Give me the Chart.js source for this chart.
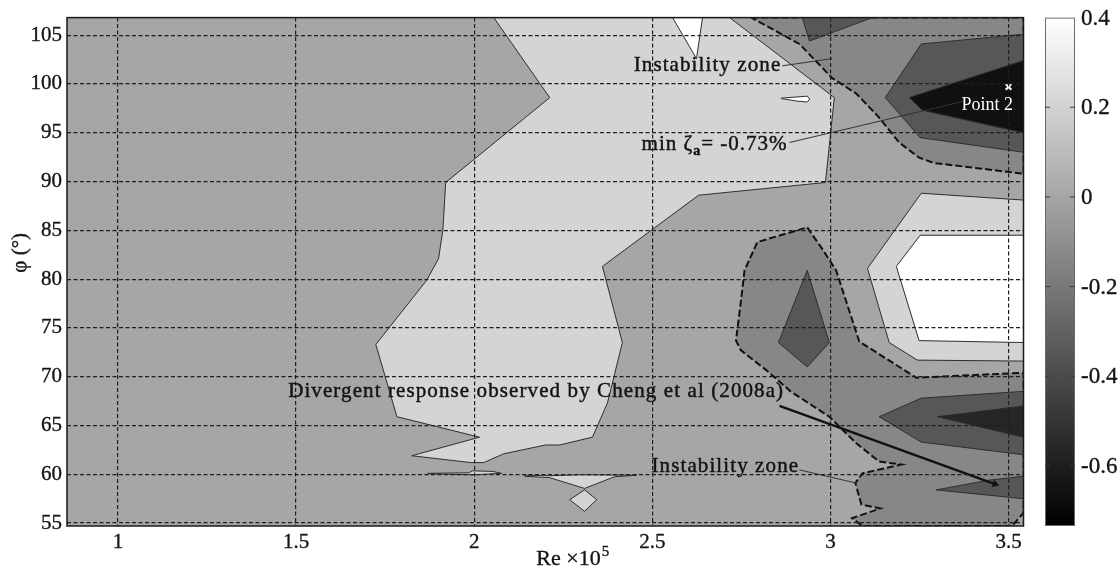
<!DOCTYPE html>
<html>
<head>
<meta charset="utf-8">
<script src="https://cdn.jsdelivr.net/npm/chart.js@4.4.1/dist/chart.umd.min.js"></script>
<style>
  html, body { margin: 0; padding: 0; background: #ffffff; }
  canvas { display: block; }
</style>
</head>
<body>
<canvas id="chart" width="1120" height="571"></canvas>
<script>
// ---- axes -------------------------------------------------------------
const reRange   = [0.857, 3.542];          // Re x 10^5
const phiRange  = [54.7, 106.8];           // phi in degrees
const reTicks   = [1, 1.5, 2, 2.5, 3, 3.5];
const phiTicks  = [55, 60, 65, 70, 75, 80, 85, 90, 95, 100, 105];
const zetaRange = [-0.734, 0.4];           // colour scale of zeta_a (%)
const zetaTicks = [0.4, 0.2, 0, -0.2, -0.4, -0.6];

// ---- filled contour regions, vertices as [Re, phi] ----------------------
// 0.2 <= zeta < 0.4
const bandHighMain = [[2.055,106.8],[2.717,106.8],[3.011,98.6],[2.986,89.9],[2.630,88.6],
  [2.360,81.3],[2.416,73.5],[2.374,67.3],[2.332,63.8],[2.240,63.0],[2.200,63.0],[2.083,62.1],
  [2.027,61.2],[1.990,61.2],[1.825,61.9],[2.015,63.8],[1.783,65.9],[1.724,73.3],[1.867,79.9],
  [1.900,82.1],[1.912,85.0],[1.920,89.9],[2.212,98.6]];
const bandHighEast = [[3.255,88.8],[3.542,88.1],[3.542,71.6],[3.244,71.7],[3.165,73.5],[3.104,81.1]];
const isleLowA = [[1.870,60.1],[1.985,60.15],[1.995,60.35],[2.050,60.3],[2.077,60.1],[2.000,59.95],[1.870,60.05]];
const isleLowB = [[2.142,59.9],[2.212,59.85],[2.300,59.95],[2.456,59.9],[2.394,59.75],[2.310,58.55],[2.212,59.65],[2.142,59.8]];
const isleLowC = [[2.268,57.4],[2.310,58.4],[2.344,57.4],[2.310,56.2]];
// zeta >= 0.4
const peakNorth = [[2.557,106.8],[2.641,106.8],[2.624,102.6]];
const peakEast  = [[3.252,84.5],[3.542,84.5],[3.542,73.5],[3.249,73.7],[3.185,81.3]];
const peakIsle  = [[2.862,98.55],[2.900,98.65],[2.935,98.75],[2.942,98.45],[2.935,98.15],[2.905,98.25],[2.862,98.5]];
// -0.2 <= zeta < 0 (instability zones, bounded by the zeta = 0 contour)
const unstableNorth = [[2.778,106.8],[3.542,106.8],[3.542,90.8],[3.291,91.9],[3.249,92.45],
  [3.193,94.0],[3.132,96.75],[3.073,99.0],[3.005,100.6],[2.913,104.1]];
const unstableSouth = [[2.935,85.3],[2.976,83.15],[3.016,80.9],[3.081,73.6],[3.241,69.9],[3.542,70.4],
  [3.542,56.05],[3.510,54.7],[3.090,54.7],[3.061,55.5],[3.140,56.5],[3.087,56.9],[3.070,59.1],
  [3.090,60.1],[3.199,61.0],[3.137,61.3],[3.072,63.2],[2.997,65.9],[2.888,68.5],[2.819,70.7],
  [2.749,72.7],[2.735,73.7],[2.749,77.8],[2.759,80.9],[2.795,83.8]];
// -0.4 <= zeta < -0.2
const dipNorthCap = [[2.921,106.8],[2.941,104.4],[3.118,106.8]];
const dipNorth    = [[3.154,98.6],[3.255,104.1],[3.542,105.1],[3.542,93.0],[3.252,94.5]];
const dipKite     = [[2.935,80.9],[2.997,73.5],[2.935,71.0],[2.854,73.5]];
const dipMid      = [[3.137,65.9],[3.255,67.8],[3.542,68.5],[3.542,62.0],[3.255,63.3]];
const dipLow      = [[3.297,58.4],[3.446,59.4],[3.542,59.8],[3.542,57.5]];
// -0.6 <= zeta < -0.4
const troughMid   = [[3.300,65.9],[3.542,67.0],[3.542,63.8]];
// zeta < -0.6
const troughNorth = [[3.221,98.6],[3.542,102.4],[3.542,95.0],[3.258,97.3]];

// ---- marked point and callouts ----------------------------------------
const point2 = [3.5, 99.7];
const leaderUpper = [[2.865,101.86],[3.005,102.6]];
const leaderMin   = [[2.885,94.0],[3.371,98.2]];
const leaderLower = [[2.913,60.45],[3.072,59.1]];
const arrowCheng  = [[2.857,67.0],[3.462,59.0]];
const noteUpper   = { text: 'Instability zone', at: [2.655, 101.9] };
const noteLower   = { text: 'Instability zone', at: [2.705, 60.8] };
const noteCheng   = { text: 'Divergent response observed by Cheng et al (2008a)', at: [2.174, 68.5] };
const noteMin     = { parts: ['min \u03b6', 'a', '= -0.73%'], at: [2.470, 93.2] };
const notePoint   = { text: 'Point 2', at: [3.440, 97.8] };

// ---- styles ------------------------------------------------------------
const tone = { p0: '#a6a6a6', p1: '#d4d4d4', p2: '#ffffff', n1: '#878787', n2: '#575757', n3: '#262626', n4: '#101010' };
const edge = {
  none:    { color: 'rgba(0,0,0,0)', width: 1, dash: [] },
  contour: { color: '#2e2e2e', width: 1, dash: [] },
  zero:    { color: '#111111', width: 2, dash: [7, 3] }
};
const serif = '"Liberation Serif", "Times New Roman", serif';
const ink = '#141414';
Chart.defaults.font.family = serif;
Chart.defaults.color = ink;

const fullField = [[reRange[0], phiRange[0]], [reRange[1], phiRange[0]], [reRange[1], phiRange[1]], [reRange[0], phiRange[1]]];

// bottom to top
const layers = [
  [fullField, tone.p0, 'none'],
  [bandHighMain, tone.p1, 'contour'],
  [bandHighEast, tone.p1, 'contour'],
  [isleLowA, tone.p1, 'contour'],
  [isleLowB, tone.p1, 'contour'],
  [isleLowC, tone.p1, 'contour'],
  [peakNorth, tone.p2, 'contour'],
  [peakEast, tone.p2, 'contour'],
  [peakIsle, tone.p2, 'contour'],
  [unstableNorth, tone.n1, 'zero'],
  [unstableSouth, tone.n1, 'zero'],
  [dipNorthCap, tone.n2, 'contour'],
  [dipNorth, tone.n2, 'contour'],
  [dipKite, tone.n2, 'contour'],
  [dipMid, tone.n2, 'contour'],
  [dipLow, tone.n2, 'contour'],
  [troughMid, tone.n3, 'contour'],
  [troughNorth, tone.n4, 'contour']
];

const toXY = pts => pts.map(([x, y]) => ({ x, y }));

const datasets = layers.map(([pts, color, kind]) => ({
  data: toXY(pts.concat([pts[0]])),
  fill: 'shape',
  backgroundColor: color,
  borderColor: edge[kind].color,
  borderWidth: edge[kind].width,
  borderDash: edge[kind].dash,
  pointRadius: 0,
  pointHoverRadius: 0,
  tension: 0
}));

[leaderUpper, leaderMin, leaderLower].forEach(seg => datasets.push({
  data: toXY(seg), fill: false, borderColor: '#333333', borderWidth: 1,
  pointRadius: 0, pointHoverRadius: 0, tension: 0
}));
datasets.push({
  data: toXY(arrowCheng), fill: false, borderColor: '#111111', borderWidth: 2.4,
  pointRadius: [0, 4.5], pointStyle: 'triangle', pointRotation: [0, 110],
  pointBackgroundColor: '#111111', pointBorderColor: '#111111', pointBorderWidth: 0,
  pointHoverRadius: 0, tension: 0
});
datasets.push({
  data: toXY([point2]), showLine: false, fill: false,
  pointStyle: 'crossRot', pointRadius: 4, pointBorderColor: '#ffffff', pointBorderWidth: 2,
  pointHoverRadius: 0
});
datasets.forEach((d, i) => { d.order = datasets.length - i; });

// ---- text, colour bar and frame ----------------------------------------
// text with a hairline outline so it reads as heavy as printed Times
function inkText(ctx, text, x, y, spacing) {
  ctx.letterSpacing = (spacing || 0) + 'px';
  ctx.fillText(text, x, y);
  ctx.strokeText(text, x, y);
  ctx.letterSpacing = '0px';
}

const decorations = {
  id: 'decorations',
  afterDraw(chart) {
    const { ctx, chartArea: a, scales } = chart;
    const sx = scales.x, sy = scales.y, cb = scales.cb;
    ctx.save();

    // plot frame
    ctx.strokeStyle = '#1a1a1a';
    ctx.lineWidth = 1.5;
    ctx.strokeRect(a.left, a.top, a.right - a.left, a.bottom - a.top);

    // callout texts
    ctx.fillStyle = ink;
    ctx.strokeStyle = ink;
    ctx.lineWidth = 0.45;
    ctx.textBaseline = 'middle';
    ctx.textAlign = 'center';
    ctx.font = '21px ' + serif;
    [noteUpper, noteLower, noteCheng].forEach(n => {
      inkText(ctx, n.text, sx.getPixelForValue(n.at[0]), sy.getPixelForValue(n.at[1]), 1.1);
    });

    // min zeta_a label with subscript
    ctx.textAlign = 'left';
    ctx.textBaseline = 'alphabetic';
    let mx = sx.getPixelForValue(noteMin.at[0]);
    const my = sy.getPixelForValue(noteMin.at[1]);
    ctx.font = '21px ' + serif;
    inkText(ctx, noteMin.parts[0], mx, my, 1);
    ctx.letterSpacing = '1px';
    mx += ctx.measureText(noteMin.parts[0]).width;
    ctx.font = 'bold 14px ' + serif;
    inkText(ctx, noteMin.parts[1], mx, my + 5, 1);
    ctx.letterSpacing = '1px';
    mx += ctx.measureText(noteMin.parts[1]).width;
    ctx.font = '21px ' + serif;
    inkText(ctx, noteMin.parts[2], mx, my, 1);

    // point label
    ctx.fillStyle = '#ffffff';
    ctx.font = '18px ' + serif;
    ctx.textAlign = 'center';
    ctx.textBaseline = 'middle';
    ctx.fillText(notePoint.text, sx.getPixelForValue(notePoint.at[0]), sy.getPixelForValue(notePoint.at[1]));

    // axis titles
    ctx.fillStyle = ink;
    ctx.strokeStyle = ink;
    ctx.lineWidth = 0.35;
    ctx.save();
    ctx.translate(a.left - 47, (a.top + a.bottom) / 2 - 19);
    ctx.rotate(-Math.PI / 2);
    ctx.font = '21px ' + serif;
    ctx.textAlign = 'center';
    inkText(ctx, '\u03c6 (\u00b0)', 0, 0);
    ctx.restore();

    ctx.textAlign = 'left';
    ctx.textBaseline = 'alphabetic';
    ctx.font = '22px ' + serif;
    const base = 'Re \u00d710';
    const wBase = ctx.measureText(base).width;
    ctx.font = '15px ' + serif;
    const wSup = ctx.measureText('5').width;
    const tx = (a.left + a.right) / 2 + 27 - (wBase + wSup) / 2;
    const ty = a.bottom + 39;
    ctx.font = '22px ' + serif;
    inkText(ctx, base, tx, ty);
    ctx.font = '15px ' + serif;
    inkText(ctx, '5', tx + wBase + 1, ty - 9);

    // colour bar
    const bx = a.right + 21.5, bw = 30;
    const top = cb.getPixelForValue(zetaRange[1]);
    const bot = cb.getPixelForValue(zetaRange[0]);
    const grad = ctx.createLinearGradient(0, bot, 0, top);
    grad.addColorStop(0, '#000000');
    grad.addColorStop(1, '#ffffff');
    ctx.fillStyle = grad;
    ctx.fillRect(bx, top, bw, bot - top);
    ctx.strokeStyle = '#6a6a6a';
    ctx.lineWidth = 1;
    ctx.strokeRect(bx + 0.5, top + 0.5, bw - 1, bot - top - 1);
    zetaTicks.forEach(v => {
      const py = cb.getPixelForValue(v);
      if (v !== zetaRange[1]) {
        ctx.strokeStyle = '#3a3a3a';
        ctx.lineWidth = 1;
        ctx.beginPath();
        ctx.moveTo(bx, py); ctx.lineTo(bx + 5, py);
        ctx.moveTo(bx + bw - 5, py); ctx.lineTo(bx + bw, py);
        ctx.stroke();
      }
    });
    ctx.font = '23px ' + serif;
    ctx.fillStyle = ink;
    ctx.strokeStyle = ink;
    ctx.lineWidth = 0.35;
    ctx.textAlign = 'left';
    ctx.textBaseline = 'middle';
    zetaTicks.forEach(v => {
      inkText(ctx, String(v), bx + bw + 6, cb.getPixelForValue(v) + 1);
    });

    ctx.restore();
  }
};

const gridStyle = { color: '#1e1e1e', lineWidth: 1.2, drawTicks: false, z: 1 };
const tickFont = { size: 21 };

new Chart(document.getElementById('chart'), {
  type: 'line',
  data: { datasets },
  options: {
    responsive: false,
    animation: false,
    devicePixelRatio: 1,
    events: [],
    layout: { padding: { left: 0, right: 96.5, top: 17, bottom: 0 } },
    plugins: {
      legend: { display: false },
      tooltip: { enabled: false },
      filler: { drawTime: 'beforeDatasetDraw', propagate: false }
    },
    scales: {
      x: {
        type: 'linear', min: reRange[0], max: reRange[1],
        afterBuildTicks: s => { s.ticks = reTicks.map(v => ({ value: v })); },
        afterFit: s => { s.height = 45; },
        ticks: { font: tickFont, padding: 4, maxRotation: 0, autoSkip: false,
                 textStrokeColor: ink, textStrokeWidth: 0.35, callback: v => String(v) },
        grid: gridStyle,
        border: { display: false, dash: [4, 2.5] }
      },
      y: {
        type: 'linear', min: phiRange[0], max: phiRange[1],
        afterBuildTicks: s => { s.ticks = phiTicks.map(v => ({ value: v })); },
        afterFit: s => { s.width = 67; },
        ticks: { font: tickFont, padding: 5, autoSkip: false,
                 textStrokeColor: ink, textStrokeWidth: 0.35, callback: v => String(v) },
        grid: gridStyle,
        border: { display: false, dash: [4, 2.5] }
      },
      cb: {
        type: 'linear', position: 'right', display: false,
        min: zetaRange[0], max: zetaRange[1]
      }
    }
  },
  plugins: [decorations]
});
</script>
</body>
</html>
